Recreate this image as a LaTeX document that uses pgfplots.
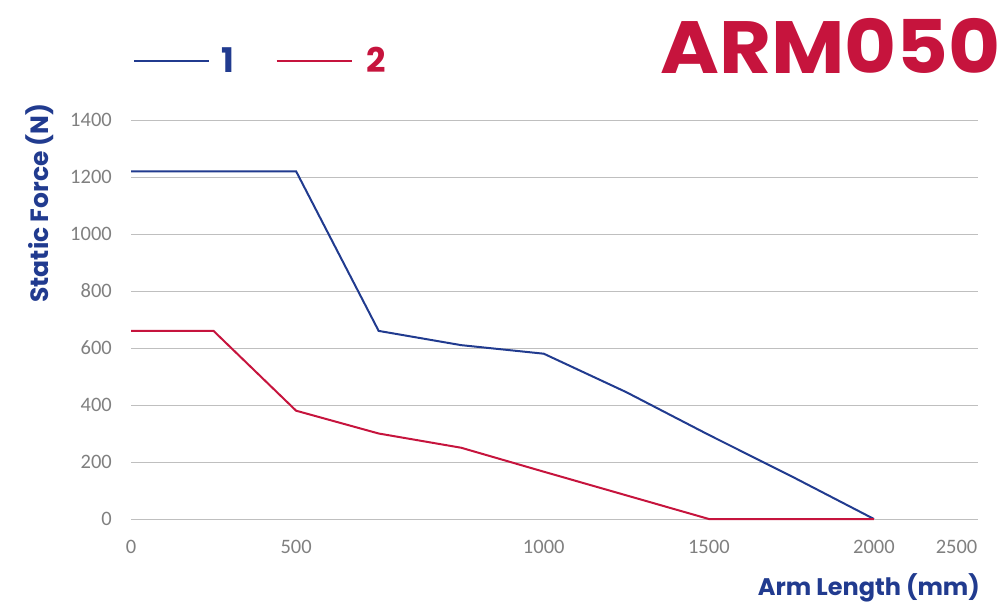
\documentclass[border=0pt]{standalone}
\usepackage{pgfplots}
\pgfplotsset{compat=1.18}
\usepackage{fontspec}
\setmainfont{Carlito}
\newfontfamily\pop{Poppins}
\definecolor{cblue}{RGB}{33,59,143}
\definecolor{cred}{RGB}{198,20,61}
\definecolor{tickgray}{RGB}{128,128,128}
\definecolor{gridgray}{RGB}{191,191,191}
\begin{document}
\begin{tikzpicture}
\useasboundingbox (0,0) rectangle (999pt,-602pt);
\begin{axis}[
  at={(131pt,-519pt)}, anchor=south west,
  width=847pt, height=399pt, scale only axis,
  xmin=0, xmax=10.26, ymin=0, ymax=1400,
  clip=false,
  ytick={0,200,...,1400},
  xtick={0,2,5,7,9,10}, xticklabels={0,500,1000,1500,2000,2500},
  ymajorgrids, grid style={gridgray, line width=1pt},
  axis line style={draw=none}, major tick length=0pt,
  tick label style={font=\fontsize{20.5}{24}\selectfont, color=tickgray},
  yticklabel style={inner sep=0pt, xshift=-19pt},
  xticklabel style={inner sep=0pt, yshift=-21pt},
  /pgf/number format/assume math mode=true,
  /pgf/number format/1000 sep={},
  xlabel={Arm Length (mm)},
  ylabel={Static Force (N)},
  xlabel style={at={(rel axis cs:1,0)}, anchor=base east, yshift=-76pt, xshift=2pt, inner sep=0pt,
    font=\pop\bfseries\fontsize{24}{28}\selectfont, color=cblue},
  ylabel style={at={(rel axis cs:-0.1074,0.792)}, anchor=center, inner sep=0pt,
    font=\pop\bfseries\fontsize{25}{28}\selectfont, color=cblue},
  title={\scalebox{1.08}[1]{ARM050}},
  title style={at={(rel axis cs:1,1)}, anchor=base east, yshift=41pt, xshift=23pt, inner sep=0pt,
    font=\pop\bfseries\fontsize{74}{80}\selectfont, color=cred},
  legend columns=2,
  legend style={at={(rel axis cs:0,1)}, anchor=west, yshift=59pt, xshift=2pt, draw=none, fill=none,
    inner sep=0pt, font=\pop\bfseries\fontsize{34}{38}\selectfont,
    /tikz/every even column/.append style={column sep=39pt}},
  legend image code/.code={\draw[#1, line width=2.5pt] (0pt,0pt) -- (75pt,0pt);},
]
\addplot[cblue, line width=2pt] coordinates {(0,1220)(1,1220)(2,1220)(3,660)(4,610)(5,580)(6,445)(7,295)(8,150)(9,0)};
\addlegendentry{\hspace{9pt}\textcolor{cblue}{1}}
\addplot[cred, line width=2pt] coordinates {(0,660)(1,660)(2,380)(3,300)(4,250)(5,166)(6,83)(7,0)(8,0)(9,0)};
\addlegendentry{\hspace{12pt}\textcolor{cred}{2}}
\end{axis}
\end{tikzpicture}
\end{document}
